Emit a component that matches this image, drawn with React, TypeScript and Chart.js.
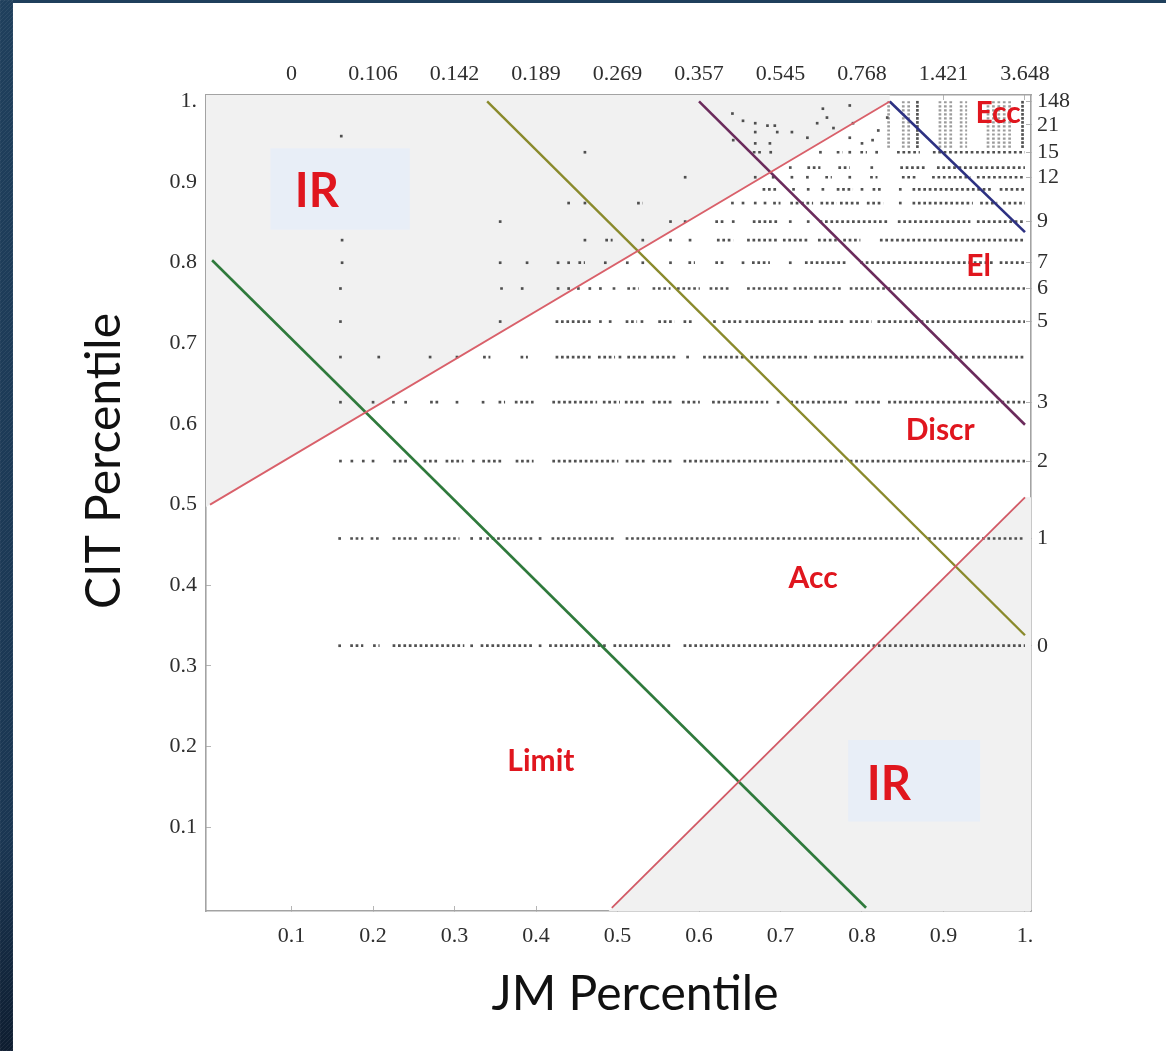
import React, { useEffect, useRef } from "react";
import { Chart, registerables } from "chart.js";

Chart.register(...registerables);

// ---------- axis ticks ----------
const jmTicks = [0.1, 0.2, 0.3, 0.4, 0.5, 0.6, 0.7, 0.8, 0.9, 1.0];
const jmBottomLabels = ["0.1", "0.2", "0.3", "0.4", "0.5", "0.6", "0.7", "0.8", "0.9", "1."];
const jmTopLabels = ["0", "0.106", "0.142", "0.189", "0.269", "0.357", "0.545", "0.768", "1.421", "3.648"];
const citTicks = [0.1, 0.2, 0.3, 0.4, 0.5, 0.6, 0.7, 0.8, 0.9, 1.0];
const citLeftLabels = ["0.1", "0.2", "0.3", "0.4", "0.5", "0.6", "0.7", "0.8", "0.9", "1."];
const citRightTicks = [0.325, 0.458, 0.554, 0.627, 0.727, 0.768, 0.8, 0.851, 0.906, 0.937, 0.971, 1.0];
const citRightLabels = ["0", "1", "2", "3", "5", "6", "7", "9", "12", "15", "21", "148"];

// ---------- dot rows (CIT percentile of each row, runs of JM percentile [from, to]) ----------
const dotRowCIT = [0.325, 0.458, 0.554, 0.627, 0.683, 0.727, 0.768, 0.8, 0.828, 0.851, 0.874, 0.891, 0.906, 0.918, 0.937];
const dotRowRuns: number[][][] = [
  [[.159, .159], [.172, .188], [.200, .208], [.224, .312], [.321, .321], [.332, .397], [.405, .405], [.416, .487], [.495, .567], [.581, 1.0]],
  [[.159, .159], [.172, .188], [.197, .208], [.224, .257], [.263, .279], [.285, .306], [.321, .321], [.332, .332], [.339, .397], [.405, .405], [.419, .498], [.510, .870], [.881, 1.0]],
  [[.160, .160], [.174, .174], [.188, .188], [.200, .200], [.225, .242], [.262, .280], [.289, .311], [.323, .323], [.334, .358], [.375, .397], [.420, .501], [.510, .534], [.543, .568], [.581, .780], [.785, 1.0]],
  [[.160, .160], [.200, .200], [.225, .225], [.240, .240], [.270, .280], [.303, .303], [.335, .335], [.354, .362], [.374, .397], [.420, .475], [.482, .503], [.509, .534], [.543, .567], [.579, .601], [.616, .685], [.697, .697], [.712, .783], [.792, .822], [.832, 1.0]],
  [[.160, .160], [.207, .207], [.270, .270], [.303, .303], [.335, .344], [.381, .390], [.424, .470], [.476, .497], [.503, .503], [.512, .536], [.541, .572], [.586, .586], [.605, .657], [.663, .736], [.741, .930], [.935, 1.0]],
  [[.160, .160], [.356, .356], [.424, .470], [.479, .479], [.491, .491], [.510, .524], [.530, .530], [.550, .570], [.581, .593], [.619, .619], [.629, .652], [.657, .741], [.747, .778], [.785, .812], [.819, 1.0]],
  [[.160, .160], [.356, .362], [.383, .383], [.427, .427], [.440, .440], [.452, .452], [.466, .466], [.479, .479], [.494, .500], [.512, .526], [.543, .565], [.573, .601], [.613, .638], [.659, .712], [.716, .761], [.764, .777], [.785, 1.0]],
  [[.162, .162], [.356, .356], [.389, .389], [.427, .427], [.440, .440], [.452, .460], [.485, .485], [.512, .512], [.531, .531], [.565, .565], [.587, .595], [.620, .630], [.654, .654], [.665, .687], [.712, .712], [.730, .782], [.798, .961], [.969, 1.0]],
  [[.162, .162], [.460, .460], [.485, .494], [.531, .531], [.565, .565], [.589, .589], [.622, .642], [.659, .696], [.703, .736], [.746, .769], [.777, .798], [.822, 1.0]],
  [[.356, .356], [.565, .565], [.583, .583], [.620, .632], [.642, .642], [.666, .696], [.712, .712], [.734, .734], [.748, .831], [.844, .933], [.941, 1.0]],
  [[.440, .440], [.460, .460], [.524, .531], [.641, .641], [.654, .654], [.669, .669], [.681, .681], [.691, .700], [.712, .740], [.749, .769], [.773, .798], [.806, .826], [.847, .847], [.862, .936], [.945, .966], [.973, 1.0]],
  [[.678, .696], [.716, .716], [.734, .734], [.752, .752], [.769, .789], [.800, .800], [.813, .826], [.847, .847], [.862, .961], [.969, 1.0]],
  [[.583, .583], [.669, .669], [.691, .691], [.714, .714], [.733, .733], [.755, .763], [.785, .785], [.810, .819], [.849, .868], [.886, .933], [.941, 1.0]],
  [[.712, .712], [.733, .749], [.771, .785], [.812, .812], [.847, .880], [.892, 1.0]],
  [[.460, .460], [.666, .676], [.688, .688], [.749, .749], [.769, .776], [.785, .785], [.798, .806], [.818, .818], [.843, .871], [.887, 1.0]],
];

// top rows (CIT 16..148) packed together, dots only in the dense columns
const upperRowCIT = [0.944, 0.949, 0.954, 0.959, 0.964, 0.969, 0.974, 0.979, 0.984, 0.989, 0.994, 0.999];
const upperRowRuns = [[.831, .835], [.849, .859], [.868, .868], [.894, .912], [.920, .929], [.953, .985], [.997, .997]];

// isolated points
const scatterJM = [.161, .641, .654, .669, .669, .684, .693, .696, .642, .669, .687, .714, .733, .745, .752, .757, .765, .785, .789, .785, .800, .813, .820, .831];
const scatterCIT = [.957, .985, .976, .973, .962, .970, .970, .962, .952, .948, .948, .962, .955, .973, .991, .980, .967, .995, .973, .955, .948, .952, .964, .980];

// ---------- boundary lines [JM, CIT] ----------
const redUpperLine = [[0, 0.5], [0.834, 1.0]];
const redLowerLine = [[0.493, 0], [1.0, 0.509]];
const greenLine = [[0.0025, 0.803], [0.805, 0]];
const yellowLine = [[0.34, 1.0], [1.0, 0.338]];
const purpleLine = [[0.6, 1.0], [1.0, 0.599]];
const navyLine = [[0.834, 1.0], [1.0, 0.838]];

// ---------- shaded regions ----------
const shadeUpperLeft = [[-0.005, 0.497], [0.834, 1.0], [0.834, 1.008], [-0.005, 1.008]];
const shadeLowerRight = [[0.493, 0], [1.0, 0.509], [1.0074, 0.509], [1.0074, -0.004], [0.489, -0.004]];
const irBoxUpper = [[0.074, 0.841], [0.245, 0.841], [0.245, 0.942], [0.074, 0.942]];
const irBoxLower = [[0.783, 0.107], [0.945, 0.107], [0.945, 0.208], [0.783, 0.208]];

// ---------- region names ----------
const regionNames = ["IR", "IR", "Limit", "Acc", "Discr", "El", "Ecc"];
const regionJM = [0.131, 0.833, 0.406, 0.740, 0.896, 0.943, 0.967];
const regionCIT = [0.890, 0.155, 0.183, 0.410, 0.593, 0.797, 0.986];

const XMIN = -0.005, XMAX = 1.0074, YMIN = -0.004, YMAX = 1.008;
const DOT = "rgba(50,50,50,0.85)";
const STREAK = "rgba(90,90,90,0.6)";

const toPts = (arr: number[][]) => arr.map(([x, y]) => ({ x, y }));

function buildDatasets() {
  const ds: any[] = [];
  const lines: [number[][], string, number][] = [
    [redUpperLine, "#d9606a", 1.8],
    [redLowerLine, "#d25a66", 1.8],
    [greenLine, "#2f7a3c", 2.6],
    [yellowLine, "#8a8a2c", 2.4],
    [purpleLine, "#6b2b5c", 2.6],
    [navyLine, "#2d3182", 2.6],
  ];
  lines.forEach(([l, c, w]) =>
    ds.push({ type: "line", data: toPts(l), borderColor: c, borderWidth: w, pointRadius: 0, fill: false, order: 1 })
  );

  const singles: { x: number; y: number }[] = [];
  const addRow = (y: number, runs: number[][], color: string, w: number) => {
    const pts: any[] = [];
    runs.forEach(([a, b]) => {
      if (b > a) pts.push({ x: a, y }, { x: b, y }, { x: b, y: null });
      else singles.push({ x: a, y });
    });
    ds.push({
      type: "line", data: pts, borderColor: color, borderWidth: w, borderDash: [2.7, 2.7],
      borderCapStyle: "butt", pointRadius: 0, spanGaps: false, fill: false, order: 5,
    });
  };
  dotRowCIT.forEach((y, i) => addRow(y, dotRowRuns[i], DOT, 2.7));
  upperRowCIT.forEach((y) => addRow(y, upperRowRuns, STREAK, 2.2));
  scatterJM.forEach((x, i) => singles.push({ x, y: scatterCIT[i] }));
  ds.push({
    type: "line", data: singles, showLine: false, pointStyle: "rect", pointRadius: 1.9,
    pointBackgroundColor: DOT, pointBorderWidth: 0, order: 5,
  });

  const shapes: [number[][], string, number][] = [
    [shadeUpperLeft, "#f1f1f1", 20],
    [shadeLowerRight, "#f1f1f1", 20],
    [irBoxUpper, "#e8eef7", 15],
    [irBoxLower, "#e8eef7", 15],
  ];
  shapes.forEach(([s, c, o]) =>
    ds.push({ type: "line", data: toPts(s), borderWidth: 0, borderColor: "rgba(0,0,0,0)", backgroundColor: c, fill: "shape", pointRadius: 0, order: o })
  );
  return ds;
}

const pagePlugin = {
  id: "page",
  beforeDraw(chart: any) {
    const { ctx, width, height } = chart;
    ctx.save();
    ctx.fillStyle = "#ffffff";
    ctx.fillRect(0, 0, width, height);
    const g = ctx.createLinearGradient(0, 0, 0, height);
    g.addColorStop(0, "#1f3f5c");
    g.addColorStop(0.8, "#1a3652");
    g.addColorStop(1, "#0e1d30");
    ctx.fillStyle = g;
    ctx.fillRect(0, 0, 13, height);
    ctx.fillStyle = "#1f3f5c";
    ctx.fillRect(0, 0, width, 3);
    ctx.strokeStyle = "rgba(255,255,255,0.07)";
    ctx.lineWidth = 1;
    ctx.beginPath();
    ctx.rect(0, 0, 13, height);
    ctx.clip();
    for (let yy = -20; yy < height + 20; yy += 4) {
      ctx.moveTo(0, yy + 13);
      ctx.lineTo(13, yy);
    }
    ctx.stroke();
    ctx.restore();
  },
};

const textPlugin = {
  id: "texts",
  afterDatasetsDraw(chart: any) {
    const { ctx, scales } = chart;
    const xs = scales.x, ys = scales.y;
    ctx.save();
    ctx.fillStyle = "#e0161e";
    ctx.textAlign = "center";
    ctx.textBaseline = "alphabetic";
    regionNames.forEach((t, i) => {
      const size = t === "IR" ? 47 : 30;
      ctx.font = `bold ${size}px Lato`;
      ctx.fillText(t, xs.getPixelForValue(regionJM[i]), ys.getPixelForValue(regionCIT[i]) + size * 0.358);
    });
    ctx.restore();
  },
  afterDraw(chart: any) {
    const { ctx } = chart;
    const size = 48;
    ctx.save();
    ctx.fillStyle = "#111111";
    ctx.font = `${size}px Lato`;
    ctx.textAlign = "center";
    ctx.textBaseline = "alphabetic";
    ctx.fillText("JM Percentile", 635, 993 + size * 0.358);
    ctx.translate(103, 461);
    ctx.rotate(-Math.PI / 2);
    ctx.fillText("CIT Percentile", 0, size * 0.358);
    ctx.restore();
  },
};

const tickFont = { family: "Liberation Serif", size: 22 };
const tickColor = "#2e2e2e";
const gridOpts = { drawOnChartArea: false, drawTicks: true, tickLength: -5, color: "#b5b5b5", lineWidth: 1 };
const borderOpts = { display: true, color: "#a3a3a3", width: 1.6 };

export default function App() {
  const ref = useRef<HTMLCanvasElement | null>(null);
  useEffect(() => {
    document.body.style.margin = "0";
    if (!ref.current) return;
    const chart = new Chart(ref.current, {
      type: "line",
      data: { datasets: buildDatasets() },
      options: {
        responsive: false,
        animation: false,
        events: [],
        layout: { padding: 0 },
        plugins: { legend: { display: false }, tooltip: { enabled: false } },
        scales: {
          x: {
            type: "linear", position: "bottom", min: XMIN, max: XMAX,
            afterBuildTicks: (s: any) => { s.ticks = jmTicks.map((v) => ({ value: v })); },
            afterFit: (s: any) => { s.height = 140; },
            ticks: { autoSkip: false, maxRotation: 0, padding: 17, font: tickFont, color: tickColor, callback: (_v: any, i: number) => jmBottomLabels[i] },
            grid: gridOpts, border: borderOpts,
          },
          x2: {
            type: "linear", axis: "x", position: "top", min: XMIN, max: XMAX,
            afterBuildTicks: (s: any) => { s.ticks = jmTicks.map((v) => ({ value: v })); },
            afterFit: (s: any) => { s.height = 95; },
            ticks: { autoSkip: false, maxRotation: 0, padding: 13, font: tickFont, color: tickColor, callback: (_v: any, i: number) => jmTopLabels[i] },
            grid: gridOpts, border: borderOpts,
          },
          y: {
            type: "linear", position: "left", min: YMIN, max: YMAX,
            afterBuildTicks: (s: any) => { s.ticks = citTicks.map((v) => ({ value: v })); },
            afterFit: (s: any) => { s.width = 206; },
            ticks: { autoSkip: false, padding: 14, font: tickFont, color: tickColor, callback: (_v: any, i: number) => citLeftLabels[i] },
            grid: gridOpts, border: borderOpts,
          },
          y2: {
            type: "linear", axis: "y", position: "right", min: YMIN, max: YMAX,
            afterBuildTicks: (s: any) => { s.ticks = citRightTicks.map((v) => ({ value: v })); },
            afterFit: (s: any) => { s.width = 135; },
            ticks: { autoSkip: false, padding: 11, font: tickFont, color: tickColor, callback: (_v: any, i: number) => citRightLabels[i] },
            grid: gridOpts, border: borderOpts,
          },
        },
      } as any,
      plugins: [pagePlugin, textPlugin],
    });
    return () => chart.destroy();
  }, []);
  return (
    <div style={{ position: "absolute", left: 0, top: 0, width: 1166, height: 1051 }}>
      <canvas ref={ref} width={1166} height={1051} style={{ width: 1166, height: 1051, display: "block" }} />
    </div>
  );
}
